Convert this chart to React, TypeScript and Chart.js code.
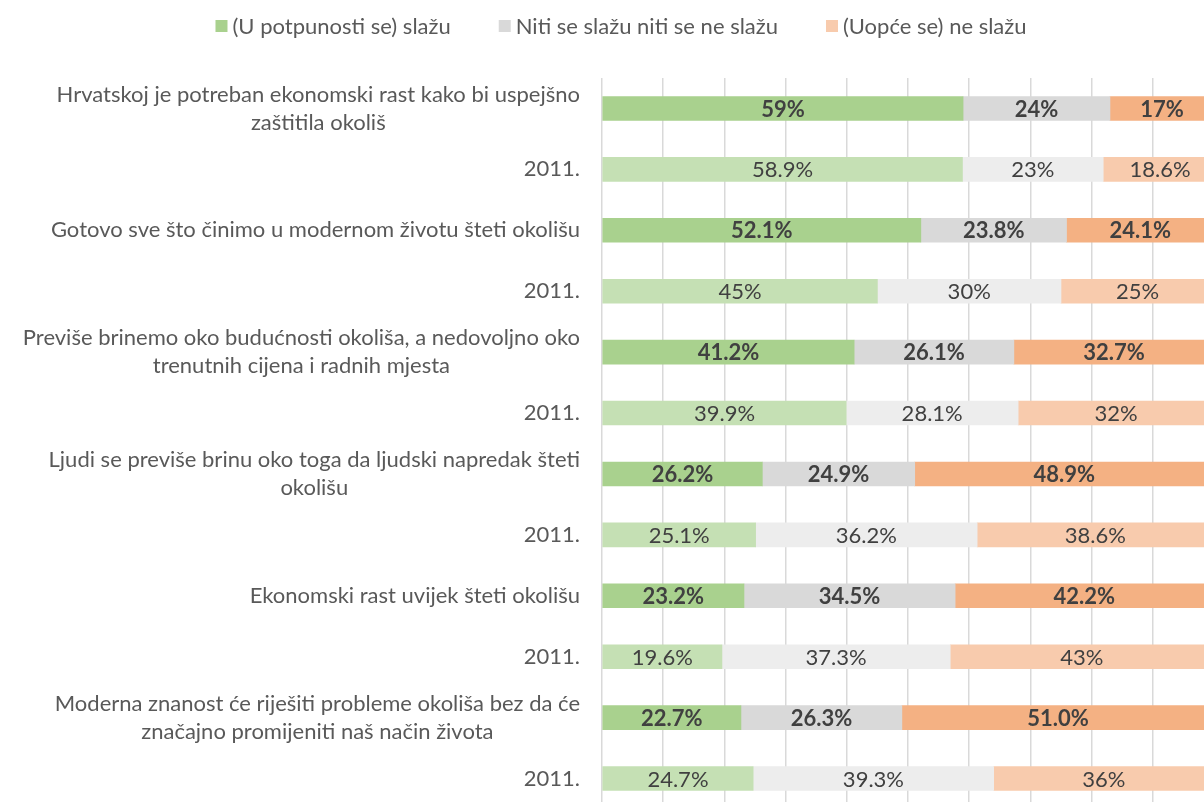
import React, { useEffect, useRef } from "react";
import { Chart, registerables } from "chart.js";

Chart.register(...registerables);

const categories: (string | string[])[] = [
  ["Hrvatskoj je potreban ekonomski rast kako bi uspejšno", "zaštitila okoliš"],
  "2011.",
  "Gotovo sve što činimo u modernom životu šteti okolišu",
  "2011.",
  ["Previše brinemo oko budućnosti okoliša, a nedovoljno oko", "trenutnih cijena i radnih mjesta"],
  "2011.",
  ["Ljudi se previše brinu oko toga da ljudski napredak šteti", "okolišu"],
  "2011.",
  "Ekonomski rast uvijek šteti okolišu",
  "2011.",
  ["Moderna znanost će riješiti probleme okoliša bez da će", "značajno promijeniti naš način života"],
  "2011.",
];

const seriesNames = ["(U potpunosti se) slažu", "Niti se slažu niti se ne slažu", "(Uopće se) ne slažu"];

const agree = [59, 58.9, 52.1, 45, 41.2, 39.9, 26.2, 25.1, 23.2, 19.6, 22.7, 24.7];
const neutral = [24, 23, 23.8, 30, 26.1, 28.1, 24.9, 36.2, 34.5, 37.3, 26.3, 39.3];
const disagree = [17, 18.6, 24.1, 25, 32.7, 32, 48.9, 38.6, 42.2, 43, 51.0, 36];

const agreeText = ["59%", "58.9%", "52.1%", "45%", "41.2%", "39.9%", "26.2%", "25.1%", "23.2%", "19.6%", "22.7%", "24.7%"];
const neutralText = ["24%", "23%", "23.8%", "30%", "26.1%", "28.1%", "24.9%", "36.2%", "34.5%", "37.3%", "26.3%", "39.3%"];
const disagreeText = ["17%", "18.6%", "24.1%", "25%", "32.7%", "32%", "48.9%", "38.6%", "42.2%", "43%", "51.0%", "36%"];

const xTicks = [0, 10, 20, 30, 40, 50, 60, 70, 80, 90, 100];

const currentColors = ["#A9D18E", "#D9D9D9", "#F4B183"];
const pastColors = ["#C5E0B4", "#EDEDED", "#F8CBAD"];
const legendColors = ["#A9D18E", "#D9D9D9", "#F8CBAD"];

const FONT = "Lato";

const textPlugin = {
  id: "textPlugin",
  afterDraw(chart: any) {
    const ctx = chart.ctx as CanvasRenderingContext2D;
    const texts = [agreeText, neutralText, disagreeText];
    ctx.save();
    // data labels
    chart.data.datasets.forEach((_ds: any, di: number) => {
      const meta = chart.getDatasetMeta(di);
      meta.data.forEach((bar: any, i: number) => {
        const { x, y, base } = bar.getProps(["x", "y", "base"], true);
        const cur = i % 2 === 0;
        ctx.font = `${cur ? "bold " : ""}22px ${FONT}`;
        ctx.fillStyle = "#404040";
        ctx.textAlign = "center";
        ctx.textBaseline = "middle";
        ctx.fillText(texts[di][i], (x + base) / 2, y + 1);
      });
    });
    // category labels
    const yScale = chart.scales.y;
    ctx.font = `22px ${FONT}`;
    ctx.fillStyle = "#595959";
    ctx.textAlign = "center";
    ctx.textBaseline = "middle";
    const right = chart.chartArea.left - 22;
    categories.forEach((c, i) => {
      const lines = Array.isArray(c) ? c : [c];
      const w = Math.max(...lines.map((l) => ctx.measureText(l).width));
      const cx = right - w / 2;
      const yc = yScale.getPixelForValue(i);
      const lh = 28;
      lines.forEach((l, k) => {
        ctx.fillText(l, cx, yc + (k - (lines.length - 1) / 2) * lh);
      });
    });
    // legend
    ctx.font = `22px ${FONT}`;
    ctx.textAlign = "left";
    const box = 12;
    const gapBT = 5;
    const gapItems = 48;
    const widths = seriesNames.map((n) => box + gapBT + ctx.measureText(n).width);
    const total = widths.reduce((a, b) => a + b, 0) + gapItems * (seriesNames.length - 1);
    let x = 621 - total / 2;
    const ly = 26;
    seriesNames.forEach((n, i) => {
      ctx.fillStyle = legendColors[i];
      ctx.fillRect(x, ly - box / 2, box, box);
      ctx.fillStyle = "#595959";
      ctx.fillText(n, x + box + gapBT, ly + 1);
      x += widths[i] + gapItems;
    });
    ctx.restore();
  },
};

export default function App() {
  const ref = useRef<HTMLCanvasElement>(null);
  useEffect(() => {
    const colorFor = (si: number) => categories.map((_, i) => (i % 2 === 0 ? currentColors[si] : pastColors[si]));
    const chart = new Chart(ref.current as HTMLCanvasElement, {
      type: "bar",
      data: {
        labels: categories as any,
        datasets: [
          { label: seriesNames[0], data: agree, backgroundColor: colorFor(0), borderWidth: 0, barThickness: 24 },
          { label: seriesNames[1], data: neutral, backgroundColor: colorFor(1), borderWidth: 0, barThickness: 24 },
          { label: seriesNames[2], data: disagree, backgroundColor: colorFor(2), borderWidth: 0, barThickness: 24 },
        ],
      },
      options: {
        indexAxis: "y",
        responsive: false,
        animation: false,
        layout: { padding: { top: 78, left: 602, right: 0, bottom: 0 } },
        plugins: { legend: { display: false }, tooltip: { enabled: false } },
        scales: {
          x: {
            stacked: true,
            min: 0,
            max: 100,
            afterBuildTicks: (scale: any) => {
              scale.ticks = xTicks.map((v) => ({ value: v }));
            },
            ticks: { display: false },
            grid: { color: "#D9D9D9", lineWidth: 1.5, drawTicks: false },
            border: { display: false },
          },
          y: {
            stacked: true,
            display: false,
          },
        },
      },
      plugins: [textPlugin],
    });
    return () => chart.destroy();
  }, []);
  return (
    <div style={{ position: "fixed", left: 0, top: 0, width: 1204, height: 802, overflow: "hidden", background: "#fff" }}>
      <canvas ref={ref} width={1214} height={809} style={{ display: "block" }} />
    </div>
  );
}
